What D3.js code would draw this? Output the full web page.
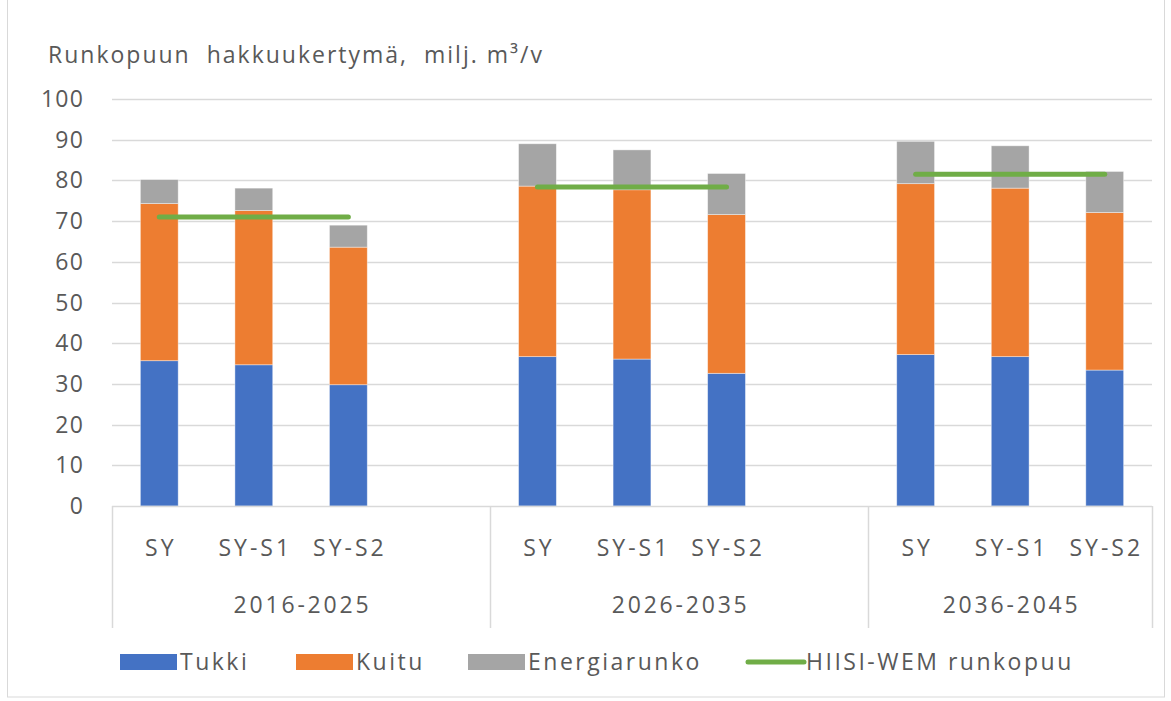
<!DOCTYPE html>
<html>
<head>
<meta charset="utf-8">
<script src="https://cdn.jsdelivr.net/npm/d3@7"></script>
<style>
  body { margin: 0; background: #fff; }
  svg { font-family: 'Open Sans', 'Noto Sans', sans-serif; }
</style>
</head>
<body>
<svg id="chart"></svg>
<script>
// values, milj. m3/v
const periods = ['2016-2025', '2026-2035', '2036-2045'];
const scenarios = ['SY', 'SY-S1', 'SY-S2'];
const tukki = [35.7, 34.7, 29.8, 36.7, 36.1, 32.6, 37.2, 36.7, 33.4];
const kuitu = [38.6, 37.9, 33.8, 41.9, 41.6, 39.0, 42.0, 41.4, 38.7];
const energia = [5.9, 5.5, 5.4, 10.4, 9.8, 10.1, 10.4, 10.4, 10.1];
const hiisi = [71.0, 78.4, 81.5];
const yTicks = [0, 10, 20, 30, 40, 50, 60, 70, 80, 90, 100];

const seriesNames = ['Tukki', 'Kuitu', 'Energiarunko'];
const colors = ['#4472c4', '#ed7d31', '#a5a5a5'];
const lineColor = '#70ad47';
const textColor = '#595959';
const gridColor = '#d9d9d9';

const width = 1171;
const height = 701;
const margin = { top: 99, right: 19, bottom: 195, left: 112 };
const fontSize = '23px';

const svg = d3.select('#chart').attr('width', width).attr('height', height);

// outer frame of the chart
svg.append('rect')
  .attr('x', 7.5).attr('y', -2)
  .attr('width', 1157).attr('height', 699)
  .attr('fill', 'none').attr('stroke', gridColor);

// slots: three scenarios per period, Excel leaves an empty slot after the first two periods
const slots = [];
periods.forEach((p, i) => {
  scenarios.forEach(s => slots.push(`${p}|${s}`));
  if (i < periods.length - 1) slots.push(`${p}|`);
});

const x = d3.scaleBand()
  .domain(slots)
  .range([margin.left, width - margin.right])
  .padding(0);

const y = d3.scaleLinear()
  .domain([0, 100])
  .range([height - margin.bottom, margin.top]);

const barW = x.bandwidth() * 0.4;

// grid
svg.append('g')
  .selectAll('line')
  .data(yTicks.filter(d => d > 0))
  .join('line')
  .attr('x1', margin.left).attr('x2', width - margin.right)
  .attr('y1', d => Math.round(y(d)) + 0.5).attr('y2', d => Math.round(y(d)) + 0.5)
  .attr('stroke', gridColor).attr('stroke-width', 1.5);

// y labels
svg.append('g')
  .selectAll('text')
  .data(yTicks)
  .join('text')
  .attr('x', 84)
  .attr('y', d => y(d))
  .attr('dy', '0.35em')
  .attr('text-anchor', 'end')
  .attr('fill', textColor)
  .style('font-size', fontSize)
  .style('letter-spacing', '1.2px')
  .text(d => d);

// title
svg.append('text')
  .attr('x', 48).attr('y', 63)
  .attr('fill', textColor)
  .style('font-size', fontSize)
  .style('letter-spacing', '2px')
  .style('white-space', 'pre')
  .text('Runkopuun  hakkuukertymä,  milj. m³/v');

// stacked bars
const rows = [];
periods.forEach((p, i) => {
  scenarios.forEach((s, j) => {
    const k = i * scenarios.length + j;
    rows.push({ key: `${p}|${s}`, Tukki: tukki[k], Kuitu: kuitu[k], Energiarunko: energia[k] });
  });
});
const stack = d3.stack().keys(seriesNames)(rows);

svg.append('g')
  .selectAll('g')
  .data(stack)
  .join('g')
  .attr('fill', (d, i) => colors[i])
  .selectAll('rect')
  .data(d => d)
  .join('rect')
  .attr('x', d => x(d.data.key) + (x.bandwidth() - barW) / 2)
  .attr('y', d => y(d[1]))
  .attr('width', barW)
  .attr('height', d => y(d[0]) - y(d[1]))
  .attr('stroke', '#fff')
  .attr('stroke-opacity', 0.5)
  .attr('stroke-width', 0.8);

// HIISI-WEM line per period
const cx = k => x(k) + x.bandwidth() / 2;
svg.append('g')
  .selectAll('line')
  .data(periods)
  .join('line')
  .attr('x1', p => cx(`${p}|${scenarios[0]}`))
  .attr('x2', p => cx(`${p}|${scenarios[scenarios.length - 1]}`))
  .attr('y1', (p, i) => y(hiisi[i]))
  .attr('y2', (p, i) => y(hiisi[i]))
  .attr('stroke', lineColor)
  .attr('stroke-width', 5)
  .attr('stroke-linecap', 'round');

// category axis
const axisY = y(0);
const axisBottom = 628;
svg.append('line')
  .attr('x1', margin.left).attr('x2', width - margin.right)
  .attr('y1', axisY + 0.5).attr('y2', axisY + 0.5)
  .attr('stroke', gridColor).attr('stroke-width', 1.5);

const groupEdges = periods.map(p => x(`${p}|${scenarios[0]}`)).concat([width - margin.right]);
svg.append('g')
  .selectAll('line')
  .data(groupEdges)
  .join('line')
  .attr('x1', d => Math.round(d) + 0.5).attr('x2', d => Math.round(d) + 0.5)
  .attr('y1', axisY).attr('y2', axisBottom)
  .attr('stroke', gridColor).attr('stroke-width', 1.5);

svg.append('g')
  .selectAll('text')
  .data(slots.filter(s => !s.endsWith('|')))
  .join('text')
  .attr('x', d => cx(d) + 1.5)
  .attr('y', 556)
  .attr('text-anchor', 'middle')
  .attr('fill', textColor)
  .style('font-size', fontSize)
  .style('letter-spacing', '3px')
  .text(d => d.split('|')[1]);

svg.append('g')
  .selectAll('text')
  .data(periods)
  .join('text')
  .attr('x', (p, i) => (groupEdges[i] + groupEdges[i + 1]) / 2 + 1.4)
  .attr('y', 613)
  .attr('text-anchor', 'middle')
  .attr('fill', textColor)
  .style('font-size', fontSize)
  .style('letter-spacing', '2.8px')
  .text(d => d);

// legend
const legendItems = [
  { name: 'Tukki', x: 120, type: 'rect', color: colors[0] },
  { name: 'Kuitu', x: 296, type: 'rect', color: colors[1] },
  { name: 'Energiarunko', x: 468, type: 'rect', color: colors[2] },
  { name: 'HIISI-WEM runkopuu', x: 746, type: 'line', color: lineColor }
];
const legendY = 662;
const lg = svg.append('g')
  .selectAll('g')
  .data(legendItems)
  .join('g')
  .attr('transform', d => `translate(${d.x},${legendY})`);

lg.filter(d => d.type === 'rect')
  .append('rect')
  .attr('x', 0).attr('y', -8)
  .attr('width', 57).attr('height', 16)
  .attr('fill', d => d.color);

lg.filter(d => d.type === 'line')
  .append('line')
  .attr('x1', 2).attr('x2', 58)
  .attr('y1', 0).attr('y2', 0)
  .attr('stroke', d => d.color)
  .attr('stroke-width', 5)
  .attr('stroke-linecap', 'round');

lg.append('text')
  .attr('x', 60)
  .attr('y', 0)
  .attr('dy', '0.35em')
  .attr('fill', textColor)
  .style('font-size', fontSize)
  .style('letter-spacing', '2.5px')
  .text(d => d.name);
</script>
</body>
</html>
